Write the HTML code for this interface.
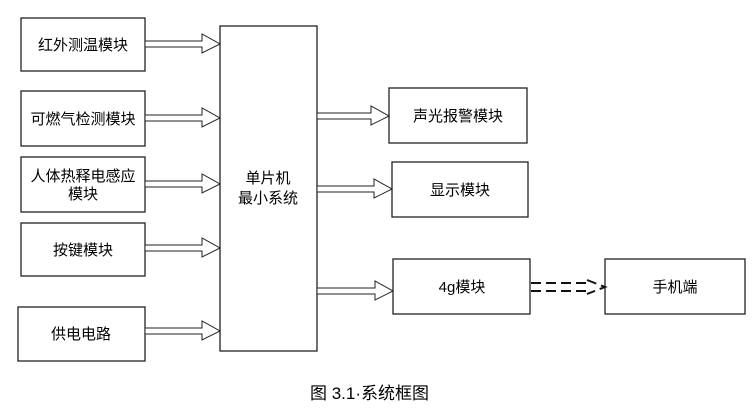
<!DOCTYPE html>
<html><head><meta charset="utf-8"><style>
html,body{margin:0;padding:0;background:#fff;}
svg text{font-family:"Liberation Sans","Noto Sans CJK SC",sans-serif;font-size:15px;fill:#000;}
</style></head><body>
<svg width="754" height="409" viewBox="0 0 754 409" xmlns="http://www.w3.org/2000/svg">
<g fill="#fff" stroke="#222" stroke-width="1.3">
<rect x="21" y="18" width="124" height="53"/>
<rect x="21" y="91" width="124" height="55"/>
<rect x="21" y="157" width="124" height="55"/>
<rect x="21" y="223" width="124" height="53"/>
<rect x="18" y="307" width="127" height="54"/>
<rect x="220" y="26" width="97" height="325"/>
<rect x="389" y="88" width="138" height="55"/>
<rect x="392" y="162" width="136" height="55"/>
<rect x="393" y="259" width="137" height="55"/>
<rect x="605" y="259" width="140" height="55"/>
</g>
<g fill="#fff" stroke="#222" stroke-width="1">
<path d="M145 41 H202 V34 L220 44 L202 53 V47 H145 Z"/>
<path d="M145 115 H202 V108 L220 118 L202 127 V121 H145 Z"/>
<path d="M145 181 H202 V174 L220 184 L202 193 V187 H145 Z"/>
<path d="M145 245 H202 V238 L220 248 L202 257 V251 H145 Z"/>
<path d="M145 328 H202 V321 L220 331 L202 340 V334 H145 Z"/>
<path d="M317 113 H371 V106 L389 116 L371 125 V119 H317 Z"/>
<path d="M317 186 H374 V179 L392 189 L374 198 V192 H317 Z"/>
<path d="M317 288 H375 V281 L393 291 L375 300 V294 H317 Z"/>
</g>
<g stroke="#111" stroke-width="2" fill="none" stroke-dasharray="10,5">
<path d="M531 283 H588"/><path d="M531 291 H588"/>
<path d="M587 280 L605 287 L587 294"/>
</g>
<text x="83" y="50" text-anchor="middle">红外测温模块</text>
<text x="83" y="124" text-anchor="middle">可燃气检测模块</text>
<text x="83" y="181" text-anchor="middle">人体热释电感应</text>
<text x="83" y="199" text-anchor="middle">模块</text>
<text x="83" y="255" text-anchor="middle">按键模块</text>
<text x="81" y="339" text-anchor="middle">供电电路</text>
<text x="268" y="183" text-anchor="middle">单片机</text>
<text x="268" y="203" text-anchor="middle">最小系统</text>
<text x="458" y="121" text-anchor="middle">声光报警模块</text>
<text x="460" y="195" text-anchor="middle">显示模块</text>
<text x="462" y="292" text-anchor="middle">4g模块</text>
<text x="675" y="292" text-anchor="middle">手机端</text>
<text x="310" y="399" style="font-size:17px">图 3.1·系统框图</text>
</svg>
</body></html>
